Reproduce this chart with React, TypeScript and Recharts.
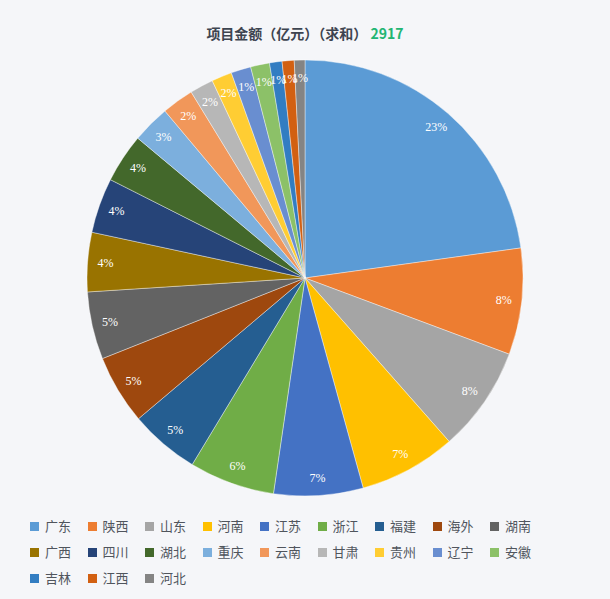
import React from "react";
import { PieChart, Pie, Cell } from "recharts";

const provinces = ["广东", "陕西", "山东", "河南", "江苏", "浙江", "福建", "海外", "湖南", "广西", "四川", "湖北", "重庆", "云南", "甘肃", "贵州", "辽宁", "安徽", "吉林", "江西", "河北"];
const amounts = [665, 230, 228, 210, 193, 185, 151, 150, 146, 128, 119, 106, 82, 69, 51, 44, 43, 41, 27, 26, 23];
const colors = ["#5b9bd5", "#ed7d31", "#a5a5a5", "#ffc000", "#4472c4", "#70ad47", "#255e91", "#9e480e", "#636363", "#997300", "#264478", "#43682b", "#7cafdd", "#f1975a", "#b7b7b7", "#ffcd33", "#698ed0", "#8cc168", "#327dc2", "#d26012", "#848484"];
const titleText = "项目金额（亿元）（求和）";
const totalText = "2917";

const data = provinces.map((name, i) => ({ name, value: amounts[i] }));

const RADIAN = Math.PI / 180;
const renderLabel = (props: any) => {
  const { cx, cy, midAngle, percent } = props;
  const r = 200;
  const x = cx + r * Math.cos(-midAngle * RADIAN);
  const y = cy + r * Math.sin(-midAngle * RADIAN);
  return (
    <text x={x} y={y} fill="#ffffff" textAnchor="middle" dominantBaseline="central" style={{ fontSize: 12, fontFamily: "'Liberation Serif', serif" }}>
      {Math.round(percent * 100) + "%"}
    </text>
  );
};

export default function App() {
  return (
    <div style={{ position: "absolute", left: 0, top: 0, width: 610, height: 599, background: "#f5f6f9", overflow: "hidden", fontFamily: "'Noto Sans CJK SC', 'Noto Sans', sans-serif" }}>
      <div style={{ position: "absolute", left: 0, top: 23, width: 610, textAlign: "center", fontSize: 14, fontWeight: 700, color: "#3d4450", lineHeight: "20px" }}>
        {titleText} <span style={{ color: "#22b573" }}>{totalText}</span>
      </div>
      <div style={{ position: "absolute", left: 0, top: 0 }}>
        <PieChart width={610} height={510} margin={{ top: 0, right: 0, bottom: 0, left: 0 }}>
          <Pie
            data={data}
            dataKey="value"
            nameKey="name"
            cx={305}
            cy={278}
            outerRadius={218}
            startAngle={90}
            endAngle={-270}
            stroke="#ffffff"
            strokeWidth={0.4}
            label={renderLabel}
            labelLine={false}
            isAnimationActive={false}
          >
            {data.map((d, i) => (
              <Cell key={d.name} fill={colors[i]} />
            ))}
          </Pie>
        </PieChart>
      </div>
      <div style={{ position: "absolute", left: 30, top: 516, width: 580 }}>
        {provinces.map((p, i) => {
          const col = i % 9;
          const row = Math.floor(i / 9);
          return (
            <div key={p} style={{ position: "absolute", left: col * 57.5, top: row * 26, height: 20, display: "flex", alignItems: "center", whiteSpace: "nowrap" }}>
              <span style={{ display: "inline-block", width: 9, height: 9, background: colors[i], marginRight: 6 }} />
              <span style={{ fontSize: 13, color: "#50555d", lineHeight: "20px" }}>{p}</span>
            </div>
          );
        })}
      </div>
    </div>
  );
}
